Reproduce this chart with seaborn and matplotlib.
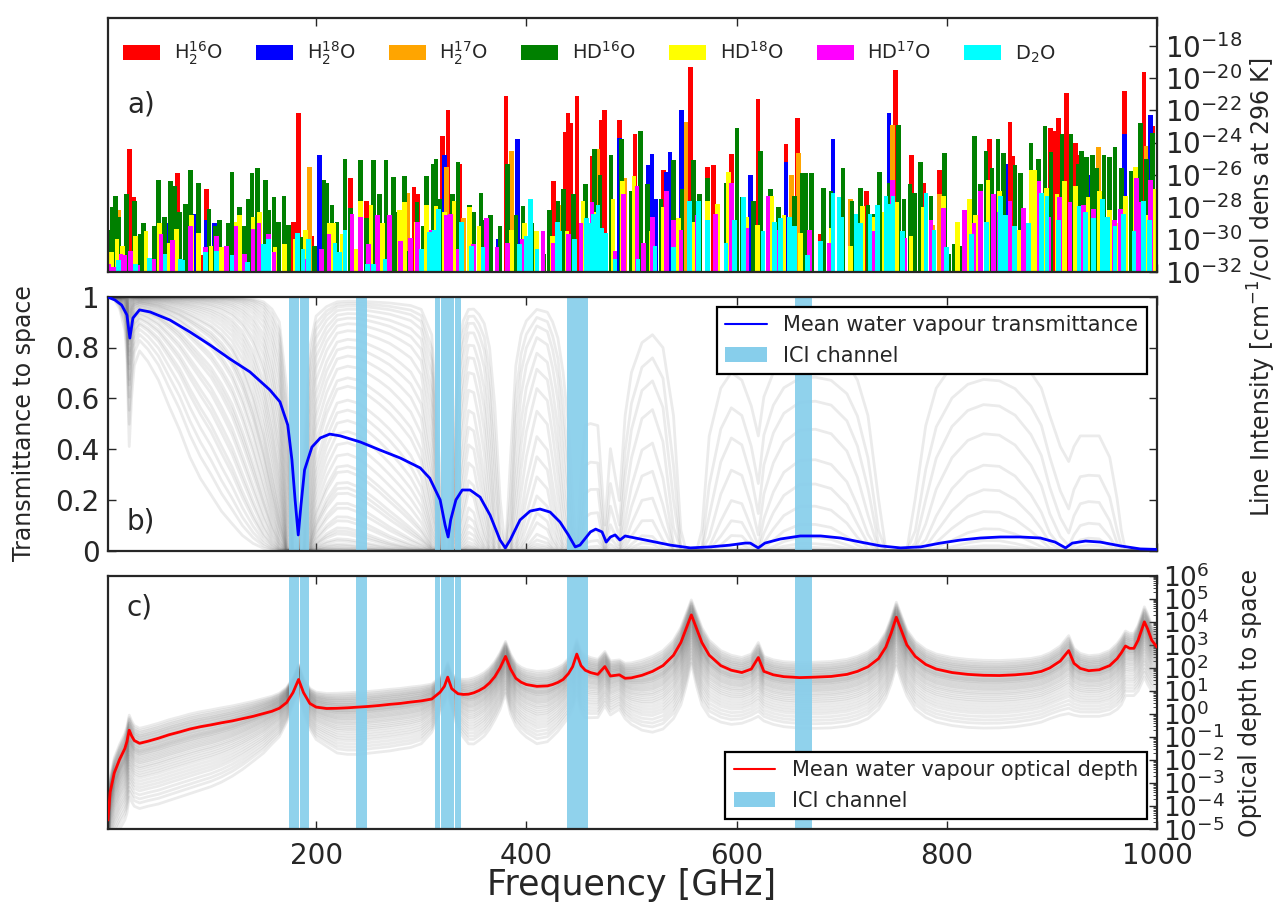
import numpy as np
import pandas as pd
import matplotlib
matplotlib.use("Agg")
import matplotlib.pyplot as plt
import seaborn as sns
from matplotlib.patches import Patch
from matplotlib.lines import Line2D
from matplotlib.ticker import LogLocator, NullLocator, FixedLocator, NullFormatter

# ---------------- data: panel a (frequency GHz, log10 line intensity) ----------------
h2o16 = [(22.2, -24.4), (26.4, -27.4), (68.3, -25.9), (90.8, -31.0), (95.6, -26.85), (178.3, -28.9),
         (183.4, -22.2), (195.8, -29.8), (233, -26.2), (247.8, -27.6), (293, -26.75), (296.7, -27.2),
         (320.4, -23.6), (325.4, -22.0), (336.7, -25.3), (380.5, -21.1), (426, -26.4), (437, -23.35),
         (439.5, -22.2), (442.4, -22.8), (448.2, -21.1), (462.4, -24.85), (471.5, -22.6), (474.4, -22.0),
         (488.9, -22.6), (503.5, -23.5), (530.7, -25.7), (556.2, -19.3), (572.2, -25.5), (578, -25.4),
         (595.3, -24.7), (620.5, -21.3), (647, -24.1), (658.2, -22.5), (679.6, -29.7), (723.5, -27.0),
         (751.4, -19.5), (766.7, -24.8), (777.9, -26.5), (793.2, -25.7), (840.8, -23.8), (860.2, -22.7),
         (862.9, -24.85), (870.7, -27.1), (898.6, -23.1), (902, -23.3), (906.1, -22.5), (913.9, -20.9),
         (922.4, -24.0), (925.8, -24.75), (969.3, -20.8), (987.7, -19.6), (996, -23.0)]
h2o18 = [(58, -29.0), (84.6, -28.4), (95.6, -28.8), (103.6, -29.0), (191, -29.8), (203.4, -24.75),
         (322.2, -24.8), (373, -29.95), (391.4, -23.8), (422.4, -28.5), (488.6, -23.7), (516, -25.4),
         (519.5, -24.7), (523, -27.5), (533.1, -25.8), (536.5, -24.6), (547.7, -22.0), (613, -26.0),
         (647, -25.2), (691.9, -23.8), (744.9, -22.2), (856.1, -25.3), (934.3, -26.0), (969.3, -23.5),
         (993.8, -22.3)]
h2o17 = [(12.5, -28.2), (76.3, -29.3), (194, -25.5), (286.8, -27.1), (324, -25.5), (340.4, -28.7),
         (386, -24.5), (431.5, -27.85), (468, -24.4), (494, -26.2), (551.8, -22.7), (652, -26.0),
         (658.9, -24.65), (708.2, -27.5), (748.3, -22.9), (786.4, -29.1), (793.2, -27.2), (880, -26.1),
         (944.5, -24.3), (989.7, -24.2)]
hd16 = [(3.4, -29.4), (6.0, -28.0), (8.9, -27.3), (12, -28.6), (19.8, -27.2), (27.1, -27.6),
        (32.5, -29.7), (36, -29.0), (46, -29.2), (50, -26.3), (56, -28.6), (61.7, -26.4), (65.3, -26.7),
        (70.1, -28.3), (76, -27.8), (80.6, -25.7), (88, -26.5), (98, -28.1), (104, -29.2), (108.3, -28.8),
        (116, -29.0), (120, -25.8), (127.3, -28.0), (132, -29.2), (135.6, -27.5), (139, -25.9),
        (144.4, -25.6), (152, -26.3), (155, -28.2), (160, -27.4), (164, -28.9), (169.5, -27.3),
        (173.5, -29.1), (186.6, -29.85), (198.3, -30.4), (207.4, -26.3), (210.3, -26.5), (215, -27.9),
        (220, -28.9), (227.4, -25.0), (233, -28.05), (242, -25.1), (248, -28.7), (254.8, -25.1),
        (260.2, -27.2), (266.4, -25.1), (273.7, -26.15), (278, -28.3), (284, -26.05), (288.6, -30.7),
        (296, -27.7), (302.1, -29.15), (305, -26.05), (311.2, -25.3), (314.2, -25.0), (318, -27.5),
        (330, -27.2), (335, -25.2), (345.9, -27.9), (350, -28.3), (356.8, -27.1), (360, -28.8),
        (366, -28.5), (375, -29.2), (382.3, -25.3), (390, -28.5), (396.8, -27.95), (405, -29.0),
        (416.9, -30.9), (422, -28.2), (430, -27.6), (435.1, -26.85), (445, -27.2), (456, -26.6),
        (465, -24.4), (470, -26.0), (480.6, -24.8), (490.6, -23.8), (500, -27.0), (508.6, -23.3),
        (515, -26.6), (528, -27.5), (539.9, -25.1), (548, -26.9), (559.3, -25.1), (565, -27.2),
        (572.2, -26.2), (582.4, -28.1), (590, -26.5), (600.4, -23.1), (605, -27.4), (616.4, -27.6),
        (622.5, -24.5), (632, -26.9), (640, -28.0), (655, -27.3), (662.3, -25.9), (665.7, -25.9),
        (671.5, -25.9), (682.7, -26.8), (690, -27.0), (701.4, -25.6), (710, -27.6), (717.7, -26.8),
        (725, -27.9), (731, -28.4), (736.1, -25.8), (745, -26.5), (754.1, -22.9), (759.2, -27.5),
        (765, -26.6), (769.4, -27.1), (775.2, -25.2), (785, -27.3), (797.6, -24.65), (801.7, -30.9),
        (806.8, -30.3), (811.9, -30.4), (817, -28.6), (826.5, -23.6), (832, -26.6), (837.4, -24.5),
        (843, -25.6), (848.6, -23.8), (853.7, -24.65), (865, -25.4), (870, -25.9), (880, -24.0),
        (887, -25.0), (893.5, -22.95), (899, -24.6), (909.5, -23.5), (918.3, -23.5), (925, -25.3),
        (928, -24.5), (933, -24.9), (938.7, -24.75), (943, -25.6), (949.6, -24.75), (955, -24.9),
        (960, -24.3), (966, -25.6), (975.1, -25.75), (984.3, -22.8), (990, -25.0), (995.5, -23.4)]
hd18 = [(5.2, -30.8), (10.7, -30.0), (16, -30.4), (28, -29.8), (38, -29.5), (50.8, -29.0), (60, -30.2),
        (67.2, -29.35), (81.7, -28.5), (88, -29.6), (100, -30.4), (110, -30.5), (123.6, -28.95),
        (127.3, -28.5), (140, -28.6), (146.2, -28.3), (160.8, -30.5), (170, -30.3), (180, -30.0),
        (190, -29.4), (212.2, -29.0), (216.5, -29.0), (225, -29.7), (237.6, -30.6), (242, -27.6),
        (252.2, -27.85), (263.2, -29.0), (270, -28.8), (279.2, -28.2), (284, -27.7), (295, -28.9),
        (305, -27.9), (314.2, -27.95), (322, -28.3), (331.3, -27.6), (345.9, -28.0), (355, -29.2),
        (385.9, -29.4), (398, -29.0), (409.6, -29.5), (425, -29.8), (438.8, -29.5), (454, -27.6),
        (465, -28.3), (482.5, -27.5), (491.6, -26.4), (502.5, -26.1), (518.9, -29.5), (530, -28.0),
        (545, -28.7), (560, -28.9), (572.2, -27.6), (582, -27.8), (592.6, -25.8), (609.6, -28.6),
        (620, -29.1), (633.4, -27.3), (645, -28.5), (660.6, -29.6), (690, -29.3), (708.2, -30.4),
        (720, -27.95), (730, -28.6), (740.5, -28.3), (752, -27.7), (766, -29.8), (778, -28.0),
        (796.6, -27.3), (810, -28.9), (821.4, -27.5), (827.2, -28.5), (839.1, -26.3), (850, -27.0),
        (860, -27.7), (868, -29.4), (880, -25.7), (883.3, -25.7), (895, -26.8), (905, -27.2),
        (912.2, -26.4), (922.4, -26.7), (934.3, -27.4), (945, -27.0), (955, -28.2), (961.5, -29.0),
        (970, -27.3), (979.5, -25.5), (990.4, -28.5), (997, -26.9)]
hd17 = [(3, -31.5), (7, -31.7), (14.3, -30.9), (18, -31.0), (23.4, -30.7), (30, -31.6), (45, -31.2),
        (52.6, -29.7), (63.5, -30.05), (80.6, -29.2), (95, -30.5), (105.4, -29.8), (115, -30.4),
        (123.6, -29.2), (132, -30.9), (140, -29.35), (145.5, -29.0), (154.6, -29.7), (160, -30.8),
        (190, -31.2), (205, -30.6), (212.2, -29.7), (222, -31.5), (234, -28.4), (242, -28.6),
        (250, -30.3), (258.4, -28.5), (270, -28.5), (280, -30.1), (290, -29.9), (296.7, -28.9),
        (309.4, -29.4), (316.7, -28.7), (324, -28.5), (327.6, -28.4), (335, -30.6), (350, -30.3),
        (362.2, -28.7), (372, -30.5), (382.3, -30.2), (396, -30.0), (416, -29.5), (426, -30.2),
        (440, -29.7), (452, -29.0), (462.4, -27.7), (470, -29.4), (484.3, -30.7), (492.7, -27.2),
        (505.4, -26.7), (511.6, -30.2), (520, -28.6), (533.5, -27.0), (540, -28.8), (547.3, -29.4),
        (562.7, -28.5), (580, -28.4), (595.3, -26.5), (610, -29.3), (630, -27.3), (640.2, -29.4),
        (650, -29.8), (669.1, -29.4), (687.8, -30.2), (700, -28.7), (730, -29.5), (748.3, -26.3),
        (760, -29.9), (785, -28.8), (796.6, -28.05), (817, -28.2), (826, -29.0), (832.3, -27.0),
        (844.2, -27.2), (850, -28.3), (860, -27.6), (873.1, -28.05), (887.7, -26.4), (897, -28.6),
        (907.1, -27.4), (917.3, -27.7), (930, -27.9), (939.4, -28.15), (959.8, -28.8), (965, -28.1),
        (980.2, -26.2), (985, -27.7), (993.8, -26.3)]
d2o = [(12, -31.3), (28, -31.5), (41.7, -31.15), (56.2, -30.9), (70.8, -31.25), (73, -31.3),
       (94.5, -30.8), (105.4, -30.7), (120, -31.0), (135, -31.4), (150, -30.3), (154.6, -30.0),
       (182, -29.6), (187.4, -30.6), (192.8, -30.0), (218, -30.2), (222, -30.8), (227.4, -29.4),
       (249, -31.5), (254.8, -31.5), (265.7, -31.25), (300, -30.6), (307.6, -29.55), (312, -29.4),
       (316.7, -28.15), (338.5, -28.9), (347.7, -30.4), (358.6, -30.5), (393.2, -30.3), (400, -29.8),
       (404.2, -27.5), (410, -30.6), (429.6, -28.95), (432, -29.5), (446, -30.0), (457, -28.7),
       (460, -29.0), (464, -28.4), (468, -27.85), (472, -29.3), (475.2, -29.6), (484.3, -31.25),
       (506.1, -31.25), (522.5, -30.4), (540, -30.5), (555.3, -27.6), (563.7, -27.6), (572.2, -28.8),
       (590, -30.2), (598, -28.8), (606.9, -27.4), (625, -29.5), (636, -28.9), (641.9, -28.7),
       (650.4, -28.6), (655, -29.2), (667.4, -31.0), (680, -30.1), (691.9, -27.1), (697.3, -27.4),
       (700, -28.6), (713.6, -28.4), (718, -29.0), (726.9, -28.4), (734, -27.9), (742.2, -27.3),
       (745, -27.8), (749, -27.3), (758, -29.5), (780.3, -27.1), (788, -29.4), (800, -30.5),
       (823.8, -29.7), (838, -28.9), (851, -27.3), (856, -28.5), (864.6, -29.2), (878, -29.0),
       (890.1, -27.1), (895.2, -27.3), (906, -28.8), (925.8, -27.95), (932, -28.3), (939.4, -28.7),
       (947.9, -27.5), (953, -28.6), (960, -29.2), (968, -28.4), (978, -29.5), (987, -27.6),
       (993, -28.8)]

isotope_labels = [r"H$_2^{16}$O", r"H$_2^{18}$O", r"H$_2^{17}$O", r"HD$^{16}$O",
                  r"HD$^{18}$O", r"HD$^{17}$O", r"D$_2$O"]
isotope_data = [h2o16, h2o18, h2o17, hd16, hd18, hd17, d2o]
isotope_colors = ["#ff0000", "#0000ff", "#ffa500", "#008000", "#ffff00", "#ff00ff", "#00ffff"]

# ---------------- data: panel b mean transmittance ----------------
trans_freq = [2, 8.6, 15, 20, 22.8, 25.7, 32, 42, 61, 80, 99, 118, 137, 156, 165.6, 173, 177, 180,
              183, 185.6, 189, 196, 204, 213, 223, 242, 261, 280, 299, 308, 318, 322.7, 325.6, 328,
              333, 339, 346.5, 356, 365.5, 375, 380, 384.6, 394, 403.6, 413, 422.6, 432, 440, 446.5,
              451, 461, 466, 472, 476, 480, 484.5, 489, 494, 503.6, 518, 537, 556, 575, 594, 608, 613,
              620.6, 627, 641.6, 660.6, 680, 699, 718, 737, 756, 775, 794, 813, 832, 851, 870, 889,
              903, 913, 919.5, 932, 946, 965, 984, 1000]
trans_mean = [0.998, 0.987, 0.967, 0.928, 0.837, 0.916, 0.948, 0.940, 0.908, 0.861, 0.810, 0.755,
              0.704, 0.633, 0.586, 0.495, 0.357, 0.200, 0.062, 0.180, 0.318, 0.408, 0.444, 0.459,
              0.452, 0.428, 0.396, 0.365, 0.326, 0.286, 0.200, 0.101, 0.054, 0.121, 0.200, 0.239,
              0.239, 0.211, 0.140, 0.042, 0.011, 0.042, 0.121, 0.156, 0.164, 0.152, 0.113, 0.062,
              0.015, 0.022, 0.074, 0.085, 0.074, 0.034, 0.054, 0.062, 0.042, 0.058, 0.050, 0.038,
              0.022, 0.011, 0.015, 0.022, 0.030, 0.030, 0.011, 0.030, 0.046, 0.058, 0.058, 0.050,
              0.034, 0.019, 0.011, 0.015, 0.030, 0.042, 0.050, 0.054, 0.054, 0.050, 0.034, 0.011,
              0.030, 0.038, 0.034, 0.019, 0.007, 0.005]

# ---------------- data: panel c optical depth (log10), mean and driest profile ----------------
tau_freq = [2, 4, 8, 13, 18, 20, 22.2, 24.5, 27, 32, 40, 50, 60, 70, 80, 90, 100, 110, 120, 130, 140,
            150, 158, 165, 172, 178, 183.3, 188, 194, 200, 210, 220, 230, 240, 250, 260, 270, 280,
            290, 300, 310, 318, 322, 325.2, 329, 335, 340, 345, 350, 355, 360, 365, 370, 375, 380.2,
            385, 390, 395, 400, 410, 420, 425, 430, 435, 440, 444, 448, 452, 456, 461, 468, 474.7,
            480, 488.5, 494, 500, 510, 520, 530, 540, 547, 552, 557, 562, 567, 574, 585, 595, 605,
            614, 620.7, 626, 635, 645, 660, 675, 690, 705, 715, 725, 735, 742, 747, 752, 757, 762,
            770, 780, 790, 805, 820, 835, 850, 865, 880, 890, 898, 908, 916, 921, 927, 935, 945, 955,
            962, 966, 970, 974, 978, 982, 985, 988, 991, 995, 1000]
tau_mean_log = [-4.6, -3.4, -2.55, -1.97, -1.5, -1.2, -0.70, -0.95, -1.15, -1.27, -1.18, -1.05, -0.9,
                -0.78, -0.65, -0.55, -0.47, -0.38, -0.3, -0.2, -0.1, 0.02, 0.12, 0.25, 0.5, 0.93, 1.5,
                0.93, 0.46, 0.3, 0.24, 0.25, 0.27, 0.3, 0.33, 0.37, 0.42, 0.46, 0.52, 0.57, 0.65, 0.95,
                1.2, 1.6, 1.1, 0.88, 0.85, 0.86, 0.92, 1.02, 1.15, 1.35, 1.62, 2.0, 2.5, 1.95, 1.55,
                1.38, 1.28, 1.2, 1.22, 1.28, 1.37, 1.5, 1.75, 2.05, 2.6, 2.1, 1.9, 1.8, 1.72, 2.06,
                1.65, 1.7, 1.55, 1.57, 1.68, 1.85, 2.1, 2.55, 3.1, 3.7, 4.3, 3.7, 3.1, 2.55, 2.1, 1.9,
                1.8, 1.95, 2.45, 1.85, 1.7, 1.62, 1.58, 1.6, 1.63, 1.72, 1.85, 2.05, 2.4, 2.9, 3.5,
                4.2, 3.6, 3.0, 2.5, 2.15, 1.95, 1.8, 1.72, 1.68, 1.67, 1.7, 1.76, 1.85, 2.0, 2.3, 2.75,
                2.2, 1.98, 1.88, 1.92, 2.1, 2.4, 2.65, 2.95, 2.85, 2.85, 3.2, 3.6, 4.0, 3.7, 3.2, 2.9]
tau_dry_log = [-7.0, -6.0, -5.5, -5.0, -4.6, -4.3, -3.6, -3.8, -4.0, -4.1, -4.0, -3.9, -3.75, -3.6,
               -3.45, -3.3, -3.15, -2.95, -2.7, -2.4, -2.05, -1.69, -1.3, -0.98, -0.35, 0.36, 0.9,
               0.0, -0.65, -1.1, -1.4, -1.69, -1.75, -1.75, -1.7, -1.65, -1.6, -1.52, -1.45, -1.29,
               -0.79, 0.08, 0.4, 0.8, 0.2, -0.65, -1.0, -1.29, -1.3, -1.14, -0.95, -0.65, -0.25, 0.2,
               0.9, 0.0, -0.5, -0.79, -1.0, -1.29, -1.2, -0.98, -0.75, -0.45, -0.15, 0.2, 0.8, 0.1,
               -0.15, -0.16, -0.15, 0.36, -0.04, 0.21, -0.2, -0.45, -0.7, -0.79, -0.65, -0.2, 0.4,
               1.2, 2.2, 1.2, 0.4, -0.1, -0.35, -0.45, -0.4, -0.25, -0.1, -0.3, -0.45, -0.55, -0.61,
               -0.62, -0.6, -0.52, -0.4, -0.2, 0.2, 0.7, 1.3, 2.1, 1.4, 0.8, 0.2, -0.15, -0.35, -0.5,
               -0.58, -0.61, -0.6, -0.55, -0.45, -0.35, -0.2, -0.05, 0.02, -0.05, -0.1, -0.1, -0.1,
               0.0, 0.2, 0.4, 0.8, 0.8, 0.8, 1.0, 1.3, 1.6, 1.3, 1.0, 0.8]
wet_offset_log = 0.65
profile_q = [0.0, 0.03, 0.05, 0.07, 0.09, 0.1, 0.12, 0.13, 0.15, 0.16, 0.18, 0.19, 0.2, 0.22, 0.23,
             0.25, 0.26, 0.28, 0.29, 0.3, 0.32, 0.33, 0.35, 0.37, 0.39, 0.41, 0.43, 0.45, 0.48, 0.5,
             0.53, 0.56, 0.59, 0.62, 0.66, 0.7, 0.74, 0.78, 0.83, 0.88, 0.93, 1.0]

# ICI channel spans (GHz)
ici_spans = [(174.5, 184.0), (184.6, 192.8), (238.2, 248.5), (313.2, 318.3), (319.2, 331.2),
             (332.0, 337.6), (439.0, 458.5), (656.0, 664.0), (664.6, 672.0)]

# ---------------- style ----------------
sns.set_style("ticks")
plt.rcParams.update({
    "font.family": ["DejaVu Sans"],
    "axes.linewidth": 1.6,
    "xtick.direction": "in", "ytick.direction": "in",
    "xtick.major.size": 6, "ytick.major.size": 6,
    "ytick.minor.size": 3, "xtick.major.width": 1.0, "ytick.major.width": 1.0,
    "xtick.labelsize": 20, "ytick.labelsize": 20,
    "axes.unicode_minus": False,
    "mathtext.default": "regular",
})

W, H = 1278, 910
fig = plt.figure(figsize=(W / 100, H / 100), dpi=100)


def rect(l, t, r, b):
    return [l / W, 1 - b / H, (r - l) / W, (b - t) / H]


axa = fig.add_axes(rect(108, 18.3, 1157, 271.6))
axb = fig.add_axes(rect(108, 296.7, 1157, 550.7))
axc = fig.add_axes(rect(108, 575.7, 1157, 829.3))

xlim = (2, 1000)
xt = [200, 400, 600, 800, 1000]
ici_color = "#87ceeb"
ens_color = "0.4"
ens_alpha = 0.13

# ---------------- panel a ----------------
axa.set_yscale("log")
for lab, col, dat in zip(isotope_labels, isotope_colors, isotope_data):
    f = np.array([d[0] for d in dat])
    s = 10.0 ** np.array([d[1] for d in dat])
    axa.bar(f, s - 1e-34, bottom=1e-34, width=4.4, color=col, linewidth=0, label=lab, align="center")
axa.set_xlim(*xlim)
axa.set_ylim(1e-32, 10 ** -16.3)
axa.yaxis.tick_right()
axa.yaxis.set_major_locator(FixedLocator([10.0 ** e for e in range(-32, -17, 2)]))
axa.yaxis.set_minor_locator(NullLocator())
axa.tick_params(axis="y", which="both", left=False, right=True, pad=6)
axa.tick_params(axis="x", top=True, bottom=True, labelbottom=False)
axa.set_xticks(xt)
handles_a = [Patch(facecolor=c, edgecolor="none") for c in isotope_colors]
axa.legend(handles_a, isotope_labels, ncol=7, loc="upper left", bbox_to_anchor=(-0.002, 0.985),
           frameon=False, fontsize=14, handlelength=1.9, handleheight=0.75, handletextpad=0.7,
           columnspacing=1.7)
axa.text(0.018, 0.66, "a)", transform=axa.transAxes, fontsize=20, ha="left", va="center")

# ---------------- ensemble (gray curves) ----------------
tf = np.array(tau_freq)
Lm = np.array(tau_mean_log)
Ld = np.array(tau_dry_log)
Lu = Lm + wet_offset_log
frames = []
for i, q in enumerate(profile_q):
    lt = Lu + q * (Ld - Lu)
    tau = 10.0 ** lt
    frames.append(pd.DataFrame({"freq": tf, "tau": tau, "trans": np.exp(-tau), "profile": i}))
ens = pd.concat(frames, ignore_index=True)

# ---------------- panel b ----------------
for lo, hi in ici_spans:
    axb.axvspan(lo, hi, color=ici_color, lw=0, alpha=0.92, zorder=2)
sns.lineplot(data=ens, x="freq", y="trans", units="profile", estimator=None, color=ens_color,
             alpha=ens_alpha, lw=2, ax=axb, legend=False, sort=False, zorder=1)
sns.lineplot(x=trans_freq, y=trans_mean, color="blue", lw=2, ax=axb, legend=False, sort=False,
             zorder=3)
axb.set_xlim(*xlim)
axb.set_ylim(0, 1)
axb.set_yticks([0, 0.2, 0.4, 0.6, 0.8, 1.0])
axb.set_yticklabels(["0", "0.2", "0.4", "0.6", "0.8", "1"])
axb.set_xticks(xt)
axb.tick_params(axis="x", top=True, bottom=True, labelbottom=False)
axb.tick_params(axis="y", left=True, right=True, pad=6)
axb.set_xlabel("")
axb.set_ylabel("")
hb = [Line2D([], [], color="blue", lw=1.5), Patch(facecolor=ici_color, edgecolor="none")]
lb = axb.legend(hb, ["Mean water vapour transmittance", "ICI channel"], loc="upper right",
                fontsize=15, frameon=True, fancybox=False, framealpha=1, edgecolor="black",
                borderaxespad=0.5)
lb.get_frame().set_linewidth(1.6)
lb.set_zorder(5)
axb.text(0.018, 0.113, "b)", transform=axb.transAxes, fontsize=20, ha="left", va="center")

# ---------------- panel c ----------------
axc.set_yscale("log")
for lo, hi in ici_spans:
    axc.axvspan(lo, hi, color=ici_color, lw=0, alpha=0.92, zorder=2)
sns.lineplot(data=ens, x="freq", y="tau", units="profile", estimator=None, color=ens_color,
             alpha=ens_alpha, lw=2, ax=axc, legend=False, sort=False, zorder=1)
sns.lineplot(x=tau_freq, y=list(10.0 ** Lm), color="red", lw=2, ax=axc, legend=False, sort=False,
             zorder=3)
axc.set_xlim(*xlim)
axc.set_ylim(1e-5, 1e6)
axc.yaxis.tick_right()
axc.yaxis.set_major_locator(FixedLocator([10.0 ** e for e in range(-5, 7)]))
axc.yaxis.set_minor_locator(LogLocator(base=10, subs=np.arange(2, 10), numticks=100))
axc.yaxis.set_minor_formatter(NullFormatter())
axc.tick_params(axis="y", which="both", left=False, right=True, pad=4, labelsize=19)
axc.set_xticks(xt)
axc.tick_params(axis="x", top=True, bottom=True, pad=9)
axc.set_xlabel("")
axc.set_ylabel("")
hc = [Line2D([], [], color="red", lw=1.5), Patch(facecolor=ici_color, edgecolor="none")]
lc = axc.legend(hc, ["Mean water vapour optical depth", "ICI channel"], loc="lower right",
                fontsize=15, frameon=True, fancybox=False, framealpha=1, edgecolor="black",
                borderaxespad=0.5)
lc.get_frame().set_linewidth(1.6)
lc.set_zorder(5)
axc.text(0.018, 0.873, "c)", transform=axc.transAxes, fontsize=20, ha="left", va="center")

# ---------------- axis titles ----------------
fig.text(24 / W, 1 - 423 / H, "Transmittance to space", rotation=90, fontsize=17,
         ha="center", va="center")
fig.text(1262 / W, 1 - 287 / H, r"Line Intensity [cm$^{-1}$/col dens at 296 K]", rotation=90,
         fontsize=17, ha="center", va="center")
fig.text(1250 / W, 1 - 703 / H, "Optical depth to space", rotation=90, fontsize=17,
         ha="center", va="center")
fig.text(632 / W, 1 - 885 / H, "Frequency [GHz]", fontsize=25, ha="center", va="center")

fig.savefig("out.png", dpi=100)
